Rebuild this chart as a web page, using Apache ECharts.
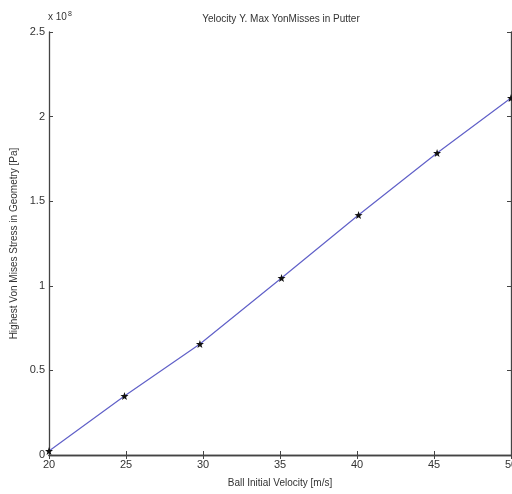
<!DOCTYPE html>
<html>
<head>
<meta charset="utf-8">
<script src="https://cdn.jsdelivr.net/npm/echarts@6/dist/echarts.min.js"></script>
<style>
  html, body { margin: 0; padding: 0; background: #fff; }
  #chart { width: 512px; height: 494px; }
</style>
</head>
<body>
<div id="chart"></div>
<script>
// data
const velocity = [20, 24.9, 29.8, 35.1, 40.1, 45.2, 50];
const stress = [0.024e8, 0.349e8, 0.656e8, 1.046e8, 1.418e8, 1.785e8, 2.11e8];
const xTicks = [20, 25, 30, 35, 40, 45, 50];

const font = '"Liberation Sans Narrow", "Liberation Sans", Arial, sans-serif';
const star = "path://M0,-10 L2.35,-3.24 L9.51,-3.09 L3.8,1.24 L5.88,8.09 L0,4 L-5.88,8.09 L-3.8,1.24 L-9.51,-3.09 L-2.35,-3.24 Z";

let chart = echarts.init(document.getElementById("chart"), null, { renderer: "canvas" });

const axisLine = { show: true, lineStyle: { color: "#444", width: 1.3 } };
const tick = { show: true, inside: true, length: 4, lineStyle: { color: "#444" } };

const options = {
  animation: false,
  title: {
    text: "Yelocity Y. Max YonMisses in Putter",
    left: 276,
    textAlign: "center",
    top: 9,
    textStyle: { fontFamily: font, fontSize: 10, fontWeight: "normal", color: "#333" },
  },
  graphic: [
    {
      type: "text",
      left: 48,
      top: 11,
      style: {
        text: "{a|x 10}{b|8}",
        rich: {
          a: { fontFamily: font, fontSize: 10, fill: "#333" },
          b: { fontFamily: font, fontSize: 7, fill: "#333", verticalAlign: "top", padding: [0, 0, 6, 1] },
        },
      },
    },
  ],
  grid: { left: 49, right: 1, top: 32, bottom: 39, containLabel: false, outerBoundsMode: "none" },
  xAxis: [
    {
      type: "value",
      min: 20,
      max: 50,
      interval: 5,
      name: "Ball Initial Velocity [m/s]",
      nameLocation: "middle",
      nameGap: 23,
      nameTextStyle: { fontFamily: font, fontSize: 10, color: "#333" },
      axisLine: axisLine,
      axisTick: tick,
      splitLine: { show: false },
      axisLabel: {
        fontFamily: font,
        fontSize: 11,
        color: "#333",
        margin: 4,
        formatter: (v) => (xTicks.includes(v) ? String(v) : ""),
      },
    },
    {
      type: "value",
      position: "top",
      min: 20,
      max: 50,
      interval: 5,
      axisLine: axisLine,
      axisTick: tick,
      axisLabel: { show: false },
      splitLine: { show: false },
    },
  ],
  yAxis: [
    {
      type: "value",
      min: 0,
      max: 2.5e8,
      interval: 0.5e8,
      name: "Highest Von Mises Stress in Geometry [Pa]",
      nameLocation: "middle",
      nameGap: 29,
      nameRotate: 90,
      nameTextStyle: { fontFamily: font, fontSize: 10, color: "#333" },
      axisLine: axisLine,
      axisTick: tick,
      splitLine: { show: false },
      axisLabel: {
        fontFamily: font,
        fontSize: 11,
        color: "#333",
        margin: 4,
        formatter: (v) => String(Math.round(v / 1e7) / 10),
      },
    },
    {
      type: "value",
      position: "right",
      min: 0,
      max: 2.5e8,
      interval: 0.5e8,
      axisLine: axisLine,
      axisTick: tick,
      axisLabel: { show: false },
      splitLine: { show: false },
    },
  ],
  series: [
    {
      type: "line",
      data: velocity.map((v, i) => [v, stress[i]]),
      symbol: star,
      symbolSize: 8,
      lineStyle: { color: "#6060c8", width: 1.2 },
      itemStyle: { color: "#111", borderWidth: 0 },
      clip: false,
    },
  ],
};

chart.setOption(options);
</script>
</body>
</html>
